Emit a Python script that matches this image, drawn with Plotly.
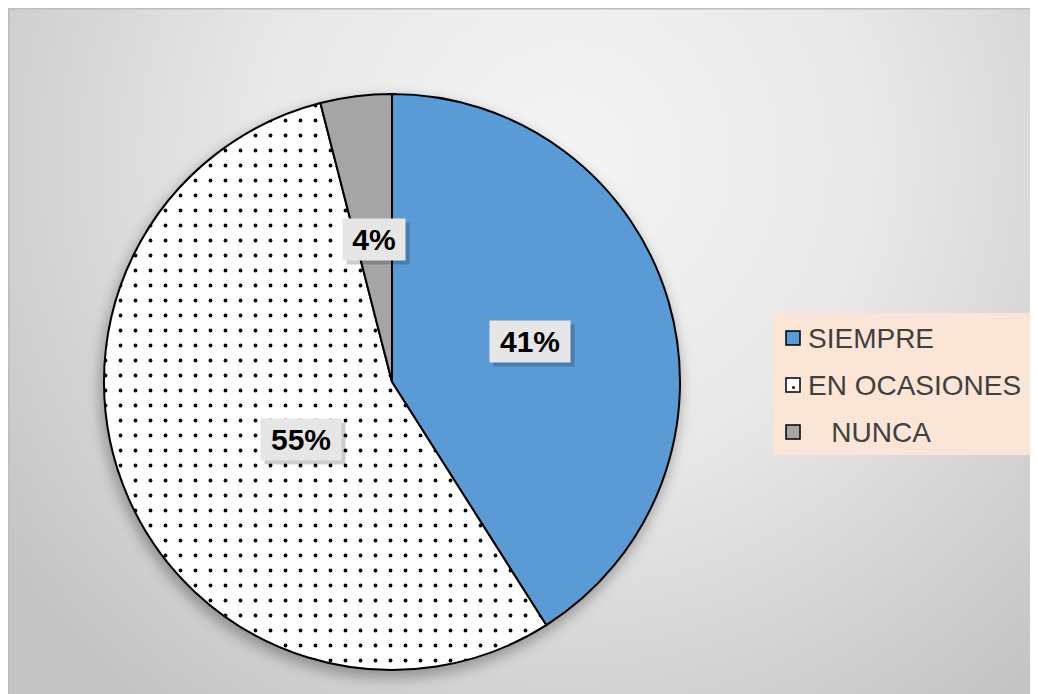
import base64
import math
import plotly.graph_objects as go

labels = ["SIEMPRE", "EN OCASIONES", "   NUNCA"]
values = [41, 55, 4]
colors = ["#5B9BD5", "#FFFFFF", "#A5A5A5"]

W, H = 1040, 690
OFF = 8  # page body margin
FONT = "Liberation Sans, Arial, sans-serif"

# pie placement in page pixels (centre + radius)
CX, CY, R = 392, 382, 288


def px(x):
    return (x - OFF) / W


def py(y):
    return 1 - (y - OFF) / H


# background: radial grey gradient + soft shadow under the pie
svg = f"""<svg xmlns="http://www.w3.org/2000/svg" width="{W}" height="{H}">
<defs>
<radialGradient id="g" gradientUnits="userSpaceOnUse" cx="560" cy="150" r="690">
<stop offset="0" stop-color="#F4F4F4"/>
<stop offset="0.45" stop-color="#E8E8E8"/>
<stop offset="1" stop-color="#C4C4C4"/>
</radialGradient>
<filter id="b" x="-20%" y="-20%" width="140%" height="140%"><feGaussianBlur stdDeviation="7"/></filter>
</defs>
<rect x="0" y="0" width="{W}" height="{H}" fill="url(#g)"/>
<circle cx="{CX - OFF - 2}" cy="{CY - OFF + 6}" r="{R + 2}" fill="#000" opacity="0.3" filter="url(#b)"/>
<path d="M0.5 {H} L0.5 0.5 L{W} 0.5" fill="none" stroke="#BDBDBD" stroke-width="2"/>
</svg>"""
bg = "data:image/svg+xml;base64," + base64.b64encode(svg.encode()).decode()

fig = go.Figure(go.Pie(
    labels=labels,
    values=values,
    sort=False,
    direction="clockwise",
    rotation=0,
    textinfo="none",
    hoverinfo="label+percent",
    marker=dict(
        colors=colors,
        line=dict(color="#000000", width=2),
        pattern=dict(shape=["", ".", ""], fgcolor="#000000", bgcolor=colors,
                     size=15, solidity=0.05),
    ),
    domain=dict(x=[px(CX - R), px(CX + R)], y=[py(CY + R), py(CY - R)]),
    showlegend=False,
))

# percentage labels in grey boxes, placed at half radius on each slice's mid angle
total = sum(values)
annotations = []
cum = 0
for v in values:
    mid = (cum + v / 2) / total * 2 * math.pi
    cum += v
    x = CX + 0.5 * R * math.sin(mid)
    y = CY - 0.5 * R * math.cos(mid)
    txt = f"{round(v / total * 100)}%"
    bw = 24 + 18 * len(txt)
    common = dict(x=px(x), y=py(y), xref="paper", yref="paper", text=f"<b>{txt}</b>",
                  showarrow=False, width=bw, height=39, borderpad=1)
    annotations.append(dict(common, xshift=4, yshift=-4, bgcolor="rgba(0,0,0,0.2)",
                            font=dict(family=FONT, size=30, color="rgba(0,0,0,0)")))
    annotations.append(dict(common, bgcolor="#E7E6E6",
                            font=dict(family=FONT, size=30, color="#000000")))

# legend drawn by hand (peach box, 47px row spacing)
shapes = [dict(type="rect", xref="paper", yref="paper", x0=px(773), x1=px(1035),
               y0=py(455), y1=py(313), fillcolor="#FBE5D6", line=dict(width=0), layer="above")]
for i, lab in enumerate(labels):
    ry = 338 + 47 * i
    shapes.append(dict(type="rect", xref="paper", yref="paper",
                       x0=px(786), x1=px(800), y0=py(ry + 7), y1=py(ry - 7),
                       fillcolor=colors[i], line=dict(color="#000000", width=1.5), layer="above"))
    if i == 1:
        shapes.append(dict(type="circle", xref="paper", yref="paper",
                           x0=px(792), x1=px(795), y0=py(ry + 4), y1=py(ry + 1),
                           fillcolor="#000000", line=dict(width=0), layer="above"))
    stripped = lab.lstrip(" ")
    shown = "\u00a0" * (len(lab) - len(stripped)) + stripped
    annotations.append(dict(x=px(806), y=py(ry), xref="paper", yref="paper", text=shown,
                            xanchor="left", yanchor="middle", showarrow=False,
                            font=dict(family=FONT, size=28, color="#404040")))

fig.update_layout(
    width=W,
    height=H,
    autosize=False,
    margin=dict(l=0, r=0, t=0, b=0),
    paper_bgcolor="#FFFFFF",
    images=[dict(source=bg, xref="paper", yref="paper", x=0, y=1,
                 sizex=1, sizey=1, xanchor="left", yanchor="top",
                 sizing="stretch", layer="below")],
    shapes=shapes,
    annotations=annotations,
)

# no scrollbars: the figure runs past the window's right and bottom edges
fig.write_html("out.html", post_script="document.documentElement.style.overflow='hidden';"
                                       "document.body.style.overflow='hidden';")
